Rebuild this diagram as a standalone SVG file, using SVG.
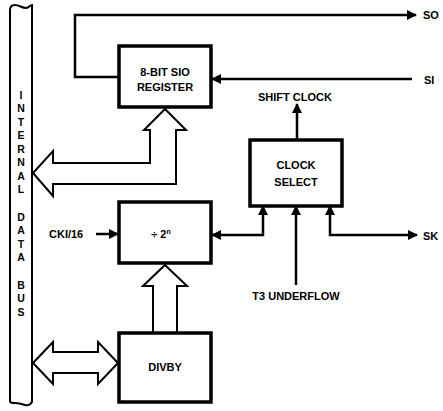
<svg xmlns="http://www.w3.org/2000/svg" width="443" height="411" viewBox="0 0 443 411">
<defs>
<style>
.box{fill:#fff;stroke:#000;stroke-width:3.5}
.ln{fill:none;stroke:#000;stroke-width:2.5}
.hol{fill:#fff;stroke:#000;stroke-width:2;stroke-linejoin:miter}
.bus{fill:none;stroke:#000;stroke-width:2}
text{font-family:"Liberation Sans",Arial,sans-serif;font-weight:bold;font-size:11px;fill:#000}
.lab{text-anchor:middle}
.v{text-anchor:middle;font-size:10.5px}
</style>
<marker id="ah" viewBox="0 0 10 10" refX="9" refY="5" markerWidth="10" markerHeight="10" markerUnits="userSpaceOnUse" orient="auto-start-reverse">
<path d="M0,0 L10,5 L0,10 z" fill="#000"/>
</marker>
</defs>
<g id="bus">
<path class="bus" d="M10,401 L10,10 C10,6 12,5 15,5 C19,5 22,8 26,8 C29,8 30,5 32,5 L32,402 C30,405 28,406 25,405 C22,404 19,403 15,403 C12,403 10,403 10,401"/>
<text class="v" x="21" y="99">I</text>
<text class="v" x="21" y="112">N</text>
<text class="v" x="21" y="126">T</text>
<text class="v" x="21" y="139">E</text>
<text class="v" x="21" y="153">R</text>
<text class="v" x="21" y="166">N</text>
<text class="v" x="21" y="180">A</text>
<text class="v" x="21" y="193">L</text>
<text class="v" x="21" y="221">D</text>
<text class="v" x="21" y="234">A</text>
<text class="v" x="21" y="248">T</text>
<text class="v" x="21" y="261">A</text>
<text class="v" x="21" y="289">B</text>
<text class="v" x="21" y="302">U</text>
<text class="v" x="21" y="316">S</text>
</g>
<g id="connectors">
<polyline class="ln" points="119,77 75,77 75,15 416,15" marker-end="url(#ah)"/>
<line class="ln" x1="412" y1="79" x2="212" y2="79" marker-end="url(#ah)"/>
<line class="ln" x1="297" y1="140" x2="297" y2="104" marker-end="url(#ah)"/>
<line class="ln" x1="96" y1="234" x2="118" y2="234" marker-end="url(#ah)"/>
<polyline class="ln" points="212,235 263,235 263,206" marker-start="url(#ah)" marker-end="url(#ah)"/>
<line class="ln" x1="296" y1="285" x2="296" y2="206" marker-end="url(#ah)"/>
<polyline class="ln" points="330,206 330,235 417,235" marker-start="url(#ah)" marker-end="url(#ah)"/>
<polygon class="hol" points="165,109 186,130 176,130 176,184 53,184 53,196 33,173 53,151 53,163 150,163 150,130 144,130"/>
<polygon class="hol" points="165,265 187,286 177,286 177,333 153,333 153,286 143,286"/>
<polygon class="hol" points="33,363 53,342 53,352 98,352 98,342 118,363 98,384 98,373 53,373 53,384"/>
</g>
<g id="register">
<rect class="box" x="119" y="46" width="92" height="61"/>
<text class="lab" x="165" y="76">8-BIT SIO</text>
<text class="lab" x="165" y="91">REGISTER</text>
</g>
<g id="clockselect">
<rect class="box" x="250" y="140" width="92" height="66"/>
<text class="lab" x="296" y="169">CLOCK</text>
<text class="lab" x="296" y="186">SELECT</text>
</g>
<g id="div2n">
<rect class="box" x="119" y="202" width="92" height="61"/>
<text class="lab" x="161" y="238">÷ 2<tspan font-size="7" dy="-4">n</tspan></text>
</g>
<g id="divby">
<rect class="box" x="119" y="333" width="92" height="69"/>
<text class="lab" x="165" y="371">DIVBY</text>
</g>
<g id="labels">
<text class="lab" x="295" y="101">SHIFT CLOCK</text>
<text class="lab" x="296" y="300">T3 UNDERFLOW</text>
<text x="49" y="238">CKI/16</text>
<text x="423" y="19">SO</text>
<text x="424" y="84">SI</text>
<text x="423" y="240">SK</text>
</g>
</svg>
